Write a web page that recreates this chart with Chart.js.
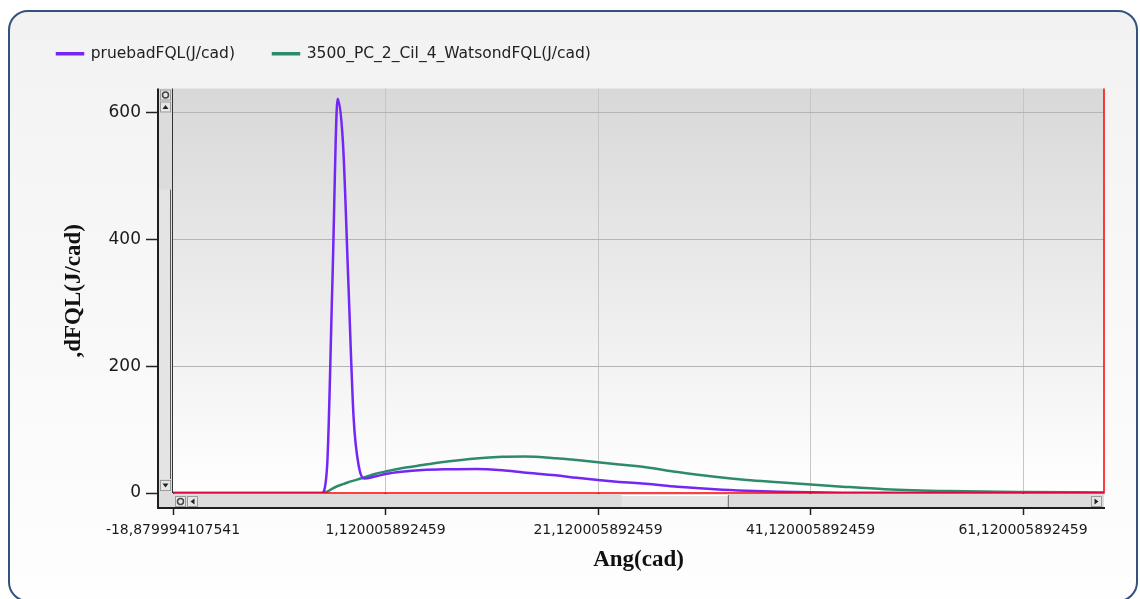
<!DOCTYPE html>
<html>
<head>
<meta charset="utf-8">
<script src="https://cdn.jsdelivr.net/npm/chart.js@4.4.0/dist/chart.umd.min.js"></script>
<style>
  body { margin: 0; background: #fff; }
  #panel {
    position: absolute; left: 8px; top: 10px; width: 1130px; height: 592px;
    box-sizing: border-box; border: 2px solid #33527f; border-radius: 20px;
    background: linear-gradient(#f2f2f2, #fefefe);
  }
  #grafico { position: absolute; left: 0; top: 0; }
</style>
</head>
<body>
<div id="panel"></div>
<canvas id="grafico" width="1140" height="599"></canvas>
<script>
// angulo (cad) y calor liberado por grado
const angulos = [-18.88, -10, -4.88, -4.38, -3.88, -3.38, -2.88, -2.38, -1.88, -1.38, -0.88,
  0.12, 1.12, 2.62, 4.62, 7.12, 9.62, 12.12, 14.12, 17.12, 19.12, 21.12, 23.12, 25.62,
  28.62, 32.12, 35.12, 38.12, 41.12, 44.12, 48.12, 54.12, 61.12, 68.74];
const prueba = [0, 0, 0, 41, 331, 622, 551, 334, 118, 41, 23,
  26, 30, 33.5, 36.3, 37.5, 38, 36, 32.5, 28, 24, 20.5, 17.5, 14.5,
  10, 6, 3.6, 2, 1, 0.5, 0.2, 0, 0, 0];
const watson = [0, 0, 0, 2, 7, 11, 14, 17, 19.5, 22, 24.5,
  30, 34, 39, 44, 50, 54.5, 57, 57.5, 55, 52, 48.5, 45, 40.5,
  33, 25.5, 20.5, 17, 13.5, 10, 6, 3, 1.5, 0.8];
const nombres = ['pruebadFQL(J/cad)', '3500_PC_2_Cil_4_WatsondFQL(J/cad)'];
const colores = ['#7326f5', '#2e8b6a'];

const xTicks = [-18.879994107541, 1.120005892459, 21.120005892459, 41.120005892459, 61.120005892459];
const xTickLabels = ['-18,879994107541', '1,120005892459', '21,120005892459', '41,120005892459', '61,120005892459'];
const yTicks = [0, 200, 400, 600];
const xMin = -18.879994107541, xMax = 68.74;
const yMin = 0, yMax = 638;

const puntos = serie => angulos.map((a, i) => ({ x: a, y: serie[i] }));

function boton(ctx, x, y, w, h) {
  ctx.fillStyle = '#e6e6e6';
  ctx.fillRect(x, y, w, h);
  ctx.strokeStyle = '#9a9a9a';
  ctx.lineWidth = 1;
  ctx.strokeRect(x + 0.5, y + 0.5, w - 1, h - 1);
}
function flecha(ctx, cx, cy, dir) {
  ctx.fillStyle = '#222';
  ctx.beginPath();
  if (dir === 'up') { ctx.moveTo(cx - 3, cy + 2); ctx.lineTo(cx + 3, cy + 2); ctx.lineTo(cx, cy - 2); }
  if (dir === 'down') { ctx.moveTo(cx - 3, cy - 2); ctx.lineTo(cx + 3, cy - 2); ctx.lineTo(cx, cy + 2); }
  if (dir === 'left') { ctx.moveTo(cx + 2, cy - 3); ctx.lineTo(cx + 2, cy + 3); ctx.lineTo(cx - 2, cy); }
  if (dir === 'right') { ctx.moveTo(cx - 2, cy - 3); ctx.lineTo(cx - 2, cy + 3); ctx.lineTo(cx + 2, cy); }
  ctx.fill();
}
function circulo(ctx, cx, cy) {
  ctx.strokeStyle = '#444';
  ctx.lineWidth = 1.5;
  ctx.beginPath();
  ctx.arc(cx, cy, 3, 0, Math.PI * 2);
  ctx.stroke();
}

const marco = {
  id: 'marco',
  afterInit(chart) {
    // espacio extra entre la leyenda y el area del grafico
    const lg = chart.legend;
    const fit = lg.fit;
    lg.fit = function () { fit.call(this); this.height += 17; };
  },
  beforeDraw(chart) {
    const { ctx, chartArea: a } = chart;
    const g = ctx.createLinearGradient(0, a.top, 0, a.bottom);
    g.addColorStop(0, '#d8d8d8');
    g.addColorStop(1, '#ffffff');
    ctx.save();
    ctx.fillStyle = g;
    ctx.fillRect(a.left, a.top, a.right - a.left, a.bottom - a.top);
    ctx.restore();
  },
  afterDatasetsDraw(chart) {
    const { ctx, chartArea: a } = chart;
    ctx.save();
    ctx.strokeStyle = '#ff0000';
    ctx.lineWidth = 1.5;
    ctx.beginPath();
    ctx.moveTo(a.left, a.bottom);
    ctx.lineTo(a.right, a.bottom);
    ctx.lineTo(a.right, a.top);
    ctx.stroke();
    ctx.restore();
  },
  afterDraw(chart) {
    const { ctx, chartArea: a } = chart;
    const s = 15;
    ctx.save();
    // barras de desplazamiento
    ctx.fillStyle = '#dcdcdc';
    ctx.fillRect(a.left - s, a.top, s, a.bottom - a.top + s);
    ctx.fillRect(a.left, a.bottom + 1, a.right - a.left, s - 1);
    // pulgar vertical
    const vt = a.top + (a.bottom - a.top) * 0.25;
    ctx.fillStyle = '#e4e4e4';
    ctx.fillRect(a.left - s + 1, vt, s - 2, a.bottom - 14 - vt);
    ctx.strokeStyle = '#555';
    ctx.lineWidth = 1;
    ctx.beginPath();
    ctx.moveTo(a.left - 2.5, vt);
    ctx.lineTo(a.left - 2.5, a.bottom - 14);
    ctx.stroke();
    // pulgar horizontal
    const w = a.right - a.left;
    const h0 = a.left + w * 0.482, h1 = a.left + w * 0.597;
    ctx.fillStyle = '#e6e6e6';
    ctx.fillRect(h0, a.bottom + 2, h1 - h0, s - 3);
    ctx.strokeStyle = '#666';
    ctx.beginPath();
    ctx.moveTo(h1 - 0.5, a.bottom + 2);
    ctx.lineTo(h1 - 0.5, a.bottom + s);
    ctx.stroke();
    ctx.strokeStyle = '#fff';
    ctx.beginPath();
    ctx.moveTo(h0, a.bottom + 2.5);
    ctx.lineTo(h1 - 1, a.bottom + 2.5);
    ctx.stroke();
    // botones
    boton(ctx, a.left - 13, a.top + 1, 11, 11); circulo(ctx, a.left - 7.5, a.top + 6.5);
    boton(ctx, a.left - 13, a.top + 13, 11, 11); flecha(ctx, a.left - 7.5, a.top + 18.5, 'up');
    boton(ctx, a.left - 13, a.bottom - 13, 11, 11); flecha(ctx, a.left - 7.5, a.bottom - 7.5, 'down');
    boton(ctx, a.left + 2, a.bottom + 3, 11, 11); circulo(ctx, a.left + 7.5, a.bottom + 8.5);
    boton(ctx, a.left + 14, a.bottom + 3, 11, 11); flecha(ctx, a.left + 19.5, a.bottom + 8.5, 'left');
    boton(ctx, a.right - 13, a.bottom + 3, 11, 11); flecha(ctx, a.right - 7.5, a.bottom + 8.5, 'right');
    // bordes
    ctx.strokeStyle = '#1e1e1e';
    ctx.lineWidth = 2;
    ctx.beginPath();
    ctx.moveTo(a.left - s, a.top);
    ctx.lineTo(a.left - s, a.bottom + s);
    ctx.lineTo(a.right + 1, a.bottom + s);
    ctx.stroke();
    ctx.lineWidth = 1;
    ctx.strokeStyle = '#333';
    ctx.beginPath();
    ctx.moveTo(a.left - 0.5, a.top);
    ctx.lineTo(a.left - 0.5, a.bottom);
    ctx.stroke();
    ctx.restore();
  }
};

new Chart(document.getElementById('grafico'), {
  type: 'line',
  data: {
    datasets: [{
      label: nombres[0],
      data: puntos(prueba),
      borderColor: colores[0],
      backgroundColor: colores[0],
      borderWidth: 2.5,
      pointRadius: 0,
      cubicInterpolationMode: 'monotone'
    }, {
      label: nombres[1],
      data: puntos(watson),
      borderColor: colores[1],
      backgroundColor: colores[1],
      borderWidth: 2.5,
      pointRadius: 0,
      cubicInterpolationMode: 'monotone'
    }]
  },
  options: {
    responsive: false,
    animation: false,
    layout: { padding: { top: 8, left: 19, right: 36, bottom: 25 } },
    plugins: {
      tooltip: { enabled: false },
      legend: {
        position: 'top',
        align: 'start',
        labels: {
          boxWidth: 26,
          boxHeight: 1,
          padding: 38,
          color: '#222',
          font: { family: 'DejaVu Sans', size: 15.5 }
        }
      }
    },
    scales: {
      x: {
        type: 'linear',
        min: xMin,
        max: xMax,
        afterFit(scale) { scale.height = 81; },
        afterBuildTicks(scale) { scale.ticks = xTicks.map(v => ({ value: v })); },
        border: { display: false },
        grid: {
          color: ctx => ctx.tick && ctx.tick.value === xTicks[0] ? 'rgba(0,0,0,0)' : '#c6c6c6',
          tickColor: '#222',
          tickLength: 22,
          tickWidth: 1.5
        },
        ticks: {
          autoSkip: false,
          maxRotation: 0,
          padding: 7,
          color: '#1a1a1a',
          font: { family: 'DejaVu Sans', size: 14 },
          callback: (v, i) => xTickLabels[i]
        },
        title: {
          display: true,
          text: 'Ang(cad)',
          color: '#111',
          padding: { top: 0, bottom: 0 },
          font: { family: 'Liberation Serif', size: 23, weight: 'bold' }
        }
      },
      y: {
        min: yMin,
        max: yMax,
        afterFit(scale) { scale.width = 154; },
        afterBuildTicks(scale) { scale.ticks = yTicks.map(v => ({ value: v })); },
        border: { display: false },
        grid: {
          color: ctx => ctx.tick && ctx.tick.value === 0 ? 'rgba(0,0,0,0)' : '#b4b4b4',
          tickColor: '#222',
          tickLength: 27,
          tickWidth: 1.5
        },
        ticks: {
          padding: 5,
          color: '#1a1a1a',
          font: { family: 'DejaVu Sans', size: 17 },
          callback: v => String(v)
        },
        title: {
          display: true,
          text: ',dFQL(J/cad)',
          color: '#111',
          padding: { top: 41, bottom: 41 },
          font: { family: 'Liberation Serif', size: 23, weight: 'bold' }
        }
      }
    }
  },
  plugins: [marco]
});
</script>
</body>
</html>
